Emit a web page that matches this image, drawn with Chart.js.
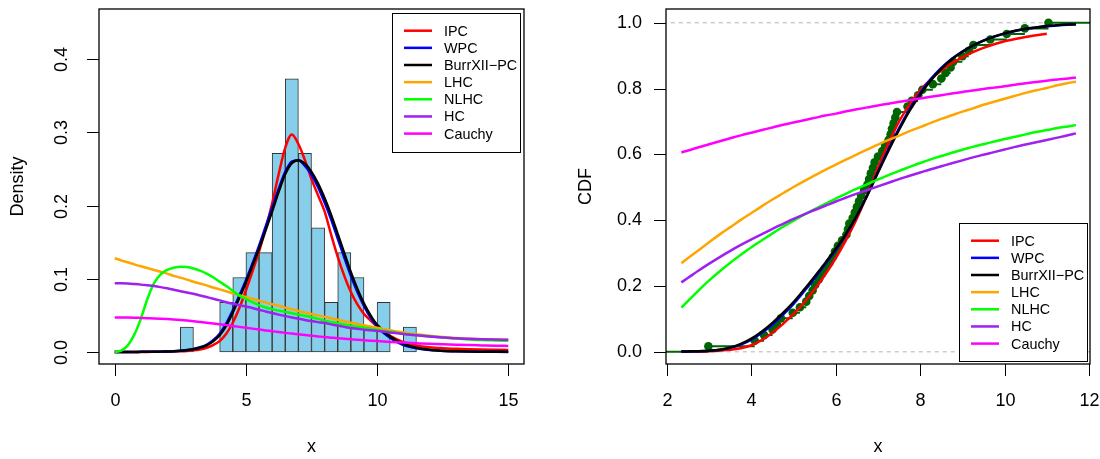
<!DOCTYPE html>
<html>
<head>
<meta charset="utf-8">
<script src="https://cdn.jsdelivr.net/npm/chart.js@4.4.1/dist/chart.umd.min.js"></script>
<style>
  html, body { margin: 0; padding: 0; background: #fff; }
  #wrap { position: relative; width: 1100px; height: 459px; }
  canvas { position: absolute; top: 0; }
  #left { left: 0; }
  #right { left: 550px; }
</style>
</head>
<body>
<div id="wrap">
  <canvas id="left" width="550" height="459"></canvas>
  <canvas id="right" width="550" height="459"></canvas>
</div>
<script>
// ---- histogram (bin width 0.5) ----
const binStarts = [2.5, 3, 3.5, 4, 4.5, 5, 5.5, 6, 6.5, 7, 7.5, 8, 8.5, 9, 9.5, 10, 10.5, 11];
const binCounts = [1, 0, 0, 2, 3, 4, 4, 8, 11, 8, 5, 2, 4, 3, 1, 2, 0, 1];

// ---- fitted densities (left panel) ----
const xDens = [0, 0.25, 0.5, 0.75, 1, 1.25, 1.5, 1.75, 2, 2.25, 2.5, 2.75, 3, 3.25, 3.5, 3.75, 4, 4.25, 4.5, 4.75,
  5, 5.25, 5.5, 5.75, 6, 6.25, 6.5, 6.75, 7, 7.25, 7.5, 7.75, 8, 8.25, 8.5, 8.75, 9, 9.25, 9.5, 9.75, 10,
  10.5, 11, 11.5, 12, 12.5, 13, 13.5, 14, 14.5, 15];
const ipcDens = [0, 0, 0, 0, 0.0001, 0.0001, 0.0002, 0.0003, 0.0004, 0.0006, 0.0009, 0.0014, 0.0022, 0.0035, 0.0058, 0.0095,
  0.015, 0.025, 0.040, 0.060, 0.084, 0.110, 0.137, 0.168, 0.203, 0.243, 0.279, 0.297, 0.284, 0.262, 0.236, 0.214,
  0.192, 0.160, 0.130, 0.104, 0.082, 0.065, 0.052, 0.043, 0.035, 0.022, 0.0135, 0.009, 0.0065, 0.0052, 0.0044,
  0.0038, 0.0034, 0.0031, 0.0028];
const wpcDens = [0.0001, 0.0001, 0.0001, 0.0001, 0.0002, 0.0002, 0.0003, 0.0005, 0.0007, 0.0011, 0.0017, 0.0027, 0.0042,
  0.0064, 0.0099, 0.016, 0.025, 0.039, 0.057, 0.077, 0.098, 0.121, 0.145, 0.171, 0.197, 0.223, 0.246, 0.26, 0.262,
  0.254, 0.242, 0.225, 0.204, 0.181, 0.155, 0.129, 0.104, 0.082, 0.063, 0.047, 0.035, 0.019, 0.0095, 0.005, 0.0026,
  0.0015, 0.0009, 0.0005, 0.0003, 0.0002, 0.0001];
const burrDens = [0.0001, 0.0001, 0.0001, 0.0001, 0.0002, 0.0002, 0.0003, 0.0005, 0.0007, 0.001, 0.0016, 0.0025, 0.0038,
  0.0058, 0.009, 0.0145, 0.023, 0.036, 0.054, 0.074, 0.095, 0.118, 0.141, 0.166, 0.192, 0.219, 0.243, 0.258, 0.262,
  0.257, 0.246, 0.23, 0.21, 0.187, 0.161, 0.135, 0.109, 0.086, 0.066, 0.05, 0.037, 0.021, 0.011, 0.0058, 0.003,
  0.0017, 0.001, 0.0006, 0.0004, 0.0003, 0.0002];
const lhcDens = [0.128, 0.125, 0.1225, 0.1197, 0.117, 0.1145, 0.112, 0.1095, 0.107, 0.104, 0.1015, 0.0988, 0.096, 0.0935,
  0.091, 0.088, 0.0855, 0.083, 0.080, 0.0777, 0.075, 0.0726, 0.070, 0.0676, 0.0652, 0.063, 0.0606, 0.0584, 0.056,
  0.054, 0.052, 0.050, 0.048, 0.046, 0.044, 0.042, 0.040, 0.0382, 0.0364, 0.0347, 0.033, 0.0298, 0.0268, 0.0243,
  0.0222, 0.0205, 0.0192, 0.0182, 0.0175, 0.017, 0.0166];
const nlhcDens = [0, 0.002, 0.009, 0.024, 0.046, 0.073, 0.094, 0.106, 0.112, 0.115, 0.1165, 0.116, 0.114, 0.111, 0.107,
  0.102, 0.096, 0.090, 0.0835, 0.077, 0.0725, 0.068, 0.064, 0.0608, 0.0585, 0.0565, 0.0548, 0.053, 0.0513, 0.0494,
  0.0475, 0.0452, 0.0428, 0.041, 0.0393, 0.0376, 0.0359, 0.0345, 0.0331, 0.0317, 0.0304, 0.0277, 0.025, 0.0231,
  0.0213, 0.0197, 0.0183, 0.0172, 0.0163, 0.0158, 0.0154];
const hcDens = [0.094, 0.0939, 0.0935, 0.0928, 0.092, 0.091, 0.090, 0.0886, 0.087, 0.085, 0.083, 0.0812, 0.0795, 0.0772,
  0.075, 0.0728, 0.0705, 0.068, 0.066, 0.064, 0.062, 0.060, 0.0576, 0.0554, 0.0532, 0.051, 0.049, 0.0472, 0.0455,
  0.0438, 0.0422, 0.0408, 0.0395, 0.0377, 0.036, 0.0343, 0.0327, 0.0316, 0.0305, 0.0297, 0.029, 0.0267, 0.0245,
  0.0228, 0.0212, 0.0199, 0.0188, 0.0181, 0.0175, 0.017, 0.0166];
const cauchyDens = [0.0472, 0.0471, 0.047, 0.0468, 0.0465, 0.0462, 0.0459, 0.0455, 0.045, 0.0444, 0.0437, 0.0429, 0.042,
  0.041, 0.04, 0.039, 0.0379, 0.0367, 0.0355, 0.0343, 0.0331, 0.0319, 0.0307, 0.0295, 0.0284, 0.0272, 0.0261, 0.0251,
  0.0241, 0.0231, 0.0222, 0.0213, 0.0204, 0.0196, 0.0188, 0.0181, 0.0174, 0.0167, 0.0161, 0.0155, 0.0149, 0.0138,
  0.0128, 0.012, 0.0112, 0.0105, 0.0099, 0.0094, 0.009, 0.0086, 0.0083];

const obs = [2.98, 4.08, 4.3, 4.5, 4.6, 4.7, 4.98, 5.15, 5.3, 5.37, 5.45, 5.51, 5.6, 5.67, 5.75, 5.85, 5.93,
  5.98, 6.05, 6.15, 6.25, 6.29, 6.32, 6.4, 6.45, 6.5, 6.55, 6.6, 6.67, 6.75, 6.79, 6.83, 6.88, 6.92,
  7.0, 7.1, 7.17, 7.25, 7.3, 7.33, 7.37, 7.41, 7.45, 7.7, 7.8, 7.95, 8.05, 8.3, 8.5, 8.6, 8.72, 8.78,
  9.0, 9.15, 9.26, 9.66, 10.05, 10.48, 11.04];

// ---- fitted CDFs (right panel) ----
const xCdf = [2.34, 2.5, 2.75, 3, 3.25, 3.5, 3.75, 4, 4.25, 4.5, 4.75, 5, 5.25, 5.5, 5.75, 6, 6.25, 6.5, 6.75, 7,
  7.25, 7.5, 7.75, 8, 8.25, 8.5, 8.75, 9, 9.25, 9.5, 9.75, 10, 10.25, 10.5, 10.75, 11, 11.25, 11.5, 11.69];
const ipcCdf = [0.0005, 0.0007, 0.001, 0.002, 0.0035, 0.006, 0.011, 0.02, 0.036, 0.058, 0.085, 0.115, 0.15, 0.19, 0.235,
  0.285, 0.342, 0.405, 0.48, 0.56, 0.635, 0.7, 0.752, 0.795, 0.828, 0.855, 0.877, 0.895, 0.911, 0.924, 0.935, 0.944,
  0.951, 0.957, 0.962, 0.967, null, null, null];
const wpcCdf = [0.001, 0.0012, 0.0019, 0.0033, 0.006, 0.012, 0.022, 0.037, 0.058, 0.083, 0.113, 0.146, 0.184, 0.224,
  0.266, 0.31, 0.358, 0.414, 0.478, 0.548, 0.616, 0.68, 0.738, 0.787, 0.829, 0.863, 0.891, 0.913, 0.931, 0.946, 0.958,
  0.967, 0.975, 0.981, 0.986, 0.989, 0.992, 0.994, 0.995];
const burrCdf = [0.001, 0.0013, 0.002, 0.0035, 0.0065, 0.013, 0.024, 0.04, 0.062, 0.088, 0.118, 0.151, 0.189, 0.229,
  0.27, 0.313, 0.36, 0.414, 0.476, 0.545, 0.612, 0.675, 0.733, 0.782, 0.825, 0.86, 0.889, 0.912, 0.931, 0.946, 0.958,
  0.968, 0.976, 0.982, 0.986, 0.99, 0.993, 0.995, 0.996];
const lhcCdf = [0.269, 0.285, 0.309, 0.333, 0.357, 0.379, 0.401, 0.422, 0.443, 0.463, 0.482, 0.501, 0.519, 0.536,
  0.553, 0.569, 0.585, 0.600, 0.615, 0.630, 0.644, 0.657, 0.671, 0.683, 0.696, 0.708, 0.719, 0.730, 0.740, 0.751,
  0.760, 0.769, 0.778, 0.787, 0.795, 0.802, 0.810, 0.817, 0.821];
const nlhcCdf = [0.134, 0.155, 0.187, 0.217, 0.245, 0.271, 0.295, 0.318, 0.339, 0.36, 0.38, 0.399, 0.417, 0.434, 0.45,
  0.466, 0.481, 0.496, 0.51, 0.524, 0.537, 0.55, 0.562, 0.574, 0.585, 0.595, 0.605, 0.614, 0.623, 0.631, 0.639, 0.647,
  0.654, 0.661, 0.668, 0.674, 0.68, 0.685, 0.689];
const hcCdf = [0.211, 0.225, 0.247, 0.268, 0.288, 0.307, 0.325, 0.342, 0.358, 0.374, 0.389, 0.404, 0.418, 0.431, 0.444,
  0.457, 0.469, 0.481, 0.492, 0.503, 0.514, 0.525, 0.535, 0.545, 0.555, 0.564, 0.573, 0.582, 0.591, 0.599, 0.607,
  0.615, 0.623, 0.63, 0.637, 0.644, 0.651, 0.658, 0.664];
const cauchyCdf = [0.606, 0.612, 0.622, 0.631, 0.64, 0.649, 0.658, 0.666, 0.674, 0.682, 0.69, 0.697, 0.704, 0.711,
  0.718, 0.724, 0.731, 0.737, 0.743, 0.749, 0.754, 0.76, 0.765, 0.77, 0.775, 0.78, 0.785, 0.79, 0.794, 0.799,
  0.803, 0.807, 0.812, 0.816, 0.82, 0.824, 0.828, 0.831, 0.834];

// ---- axes / legend text ----
const models = ['IPC', 'WPC', 'BurrXII\u2212PC', 'LHC', 'NLHC', 'HC', 'Cauchy'];
const modelColors = ['#FF0000', '#0000FF', '#000000', '#FFA500', '#00FF00', '#A020F0', '#FF00FF'];
const densXTicks = [0, 5, 10, 15];
const densYTicks = [0, 0.1, 0.2, 0.3, 0.4];
const densYLabels = ['0.0', '0.1', '0.2', '0.3', '0.4'];
const cdfXTicks = [2, 4, 6, 8, 10, 12];
const cdfYTicks = [0, 0.2, 0.4, 0.6, 0.8, 1];
const cdfYLabels = ['0.0', '0.2', '0.4', '0.6', '0.8', '1.0'];

const FONT = '"Liberation Sans", Arial, Helvetica, sans-serif';

function pts(xs, ys) {
  return xs.map((x, i) => ({ x: x, y: ys[i] }));
}

function curve(data, color, order) {
  return {
    type: 'line', data: data, borderColor: color, borderWidth: 2.5,
    pointRadius: 0, fill: false, cubicInterpolationMode: 'monotone', order: order,
  };
}

// draws the R style frame, ticks, labels and legend
const rFrame = {
  id: 'rFrame',
  afterDraw(chart, args, o) {
    const ctx = chart.ctx;
    const a = chart.chartArea;
    const sx = chart.scales.x, sy = chart.scales.y;
    ctx.save();
    ctx.strokeStyle = '#000';
    ctx.fillStyle = '#000';
    ctx.lineWidth = 1.3;
    ctx.strokeRect(a.left, a.top, a.right - a.left, a.bottom - a.top);

    ctx.lineWidth = 1;
    ctx.font = '18px ' + FONT;
    ctx.textAlign = 'center';
    ctx.textBaseline = 'middle';
    o.xTicks.forEach((v) => {
      const px = Math.round(sx.getPixelForValue(v)) + 0.5;
      ctx.beginPath(); ctx.moveTo(px, a.bottom); ctx.lineTo(px, a.bottom + 12); ctx.stroke();
      ctx.fillText(String(v), px, a.bottom + 37);
    });
    o.yTicks.forEach((v, i) => {
      const py = Math.round(sy.getPixelForValue(v)) + 0.5;
      ctx.beginPath(); ctx.moveTo(a.left - 12, py); ctx.lineTo(a.left, py); ctx.stroke();
      if (o.yRotate) {
        ctx.save();
        ctx.translate(a.left - 37, py);
        ctx.rotate(-Math.PI / 2);
        ctx.textAlign = 'center';
        ctx.fillText(o.yLabels[i], 0, 0);
        ctx.restore();
      } else {
        ctx.textAlign = 'right';
        ctx.fillText(o.yLabels[i], a.left - 24, py);
        ctx.textAlign = 'center';
      }
    });

    ctx.fillText(o.xTitle, (a.left + a.right) / 2, 447);
    ctx.save();
    ctx.translate(o.yTitleX, (a.top + a.bottom) / 2);
    ctx.rotate(-Math.PI / 2);
    ctx.fillText(o.yTitle, 0, 0);
    ctx.restore();

    // legend
    const L = o.legend;
    ctx.fillStyle = '#fff';
    ctx.fillRect(L.x, L.y, L.w, L.h);
    ctx.strokeStyle = '#000';
    ctx.lineWidth = 1;
    ctx.strokeRect(L.x + 0.5, L.y + 0.5, L.w, L.h);
    ctx.font = '14.4px ' + FONT;
    ctx.textAlign = 'left';
    models.forEach((m, i) => {
      const cy = L.y + 17.7 + i * 17.15;
      ctx.strokeStyle = modelColors[i];
      ctx.lineWidth = 2.5;
      ctx.beginPath(); ctx.moveTo(L.x + 12, cy); ctx.lineTo(L.x + 40, cy); ctx.stroke();
      ctx.fillStyle = '#000';
      ctx.fillText(m, L.x + 52, cy + 1);
    });
    ctx.restore();
  },
};

function baseOptions(xr, yr, pad, frame) {
  return {
    responsive: false, animation: false, events: [], devicePixelRatio: 1,
    layout: { padding: pad },
    plugins: { legend: { display: false }, tooltip: { enabled: false }, rFrame: frame },
    scales: {
      x: { type: 'linear', min: xr[0], max: xr[1], display: false, offset: false },
      y: { type: 'linear', min: yr[0], max: yr[1], display: false },
    },
  };
}

// ---- left: histogram + densities ----
const nObs = binCounts.reduce((s, c) => s + c, 0);
const histData = binStarts.map((b, i) => ({ x: b + 0.25, y: binCounts[i] / (nObs * 0.5) }));

const densSeries = [ipcDens, wpcDens, burrDens, lhcDens, nlhcDens, hcDens, cauchyDens];
const leftSets = [{
  type: 'bar', data: histData, backgroundColor: '#87CEEB', borderColor: '#333333',
  borderWidth: 1, borderSkipped: false, barPercentage: 1, categoryPercentage: 1, order: 20,
}];
densSeries.forEach((s, i) => leftSets.push(curve(pts(xDens, s), modelColors[i], 10 - i)));

new Chart(document.getElementById('left'), {
  type: 'bar',
  data: { datasets: leftSets },
  options: baseOptions([-0.6, 15.6], [-0.0164, 0.4684], { left: 99, right: 26, top: 9, bottom: 95 }, {
    xTicks: densXTicks, yTicks: densYTicks, yLabels: densYLabels, yRotate: true,
    xTitle: 'x', yTitle: 'Density', yTitleX: 18,
    legend: { x: 392, y: 13, w: 128, h: 139 },
  }),
  plugins: [rFrame],
});

// ---- right: empirical CDF + fitted CDFs ----
const ecdfY = obs.map((_, i) => (i + 1) / obs.length);
const steps = [{ x: 1.5, y: 0 }, { x: obs[0], y: 0 }, { x: obs[0], y: null }];
obs.forEach((v, i) => {
  const next = i < obs.length - 1 ? obs[i + 1] : 12.5;
  steps.push({ x: v, y: ecdfY[i] }, { x: next, y: ecdfY[i] }, { x: next, y: null });
});

const cdfSeries = [ipcCdf, wpcCdf, burrCdf, lhcCdf, nlhcCdf, hcCdf, cauchyCdf];
const rightSets = [
  { type: 'line', data: [{ x: 1.9, y: 0 }, { x: 12.1, y: 0 }], borderColor: '#B3B3B3', borderWidth: 1,
    borderDash: [4, 4], pointRadius: 0, order: 30 },
  { type: 'line', data: [{ x: 1.9, y: 1 }, { x: 12.1, y: 1 }], borderColor: '#B3B3B3', borderWidth: 1,
    borderDash: [4, 4], pointRadius: 0, order: 30 },
  { type: 'line', data: steps, borderColor: '#006400', borderWidth: 2, pointRadius: 0,
    spanGaps: false, tension: 0, order: 25 },
  { type: 'line', data: pts(obs, ecdfY), showLine: false, pointRadius: 4.3,
    pointBackgroundColor: '#006400', pointBorderWidth: 0, order: 24 },
];
cdfSeries.forEach((s, i) => rightSets.push(curve(pts(xCdf, s), modelColors[i], 10 - i)));

new Chart(document.getElementById('right'), {
  type: 'line',
  data: { datasets: rightSets },
  options: baseOptions([1.976, 12.024], [-0.037, 1.042], { left: 116, right: 10, top: 9, bottom: 95 }, {
    xTicks: cdfXTicks, yTicks: cdfYTicks, yLabels: cdfYLabels, yRotate: false,
    xTitle: 'x', yTitle: 'CDF', yTitleX: 36,
    legend: { x: 409, y: 223, w: 128, h: 138 },
  }),
  plugins: [rFrame],
});
</script>
</body>
</html>
